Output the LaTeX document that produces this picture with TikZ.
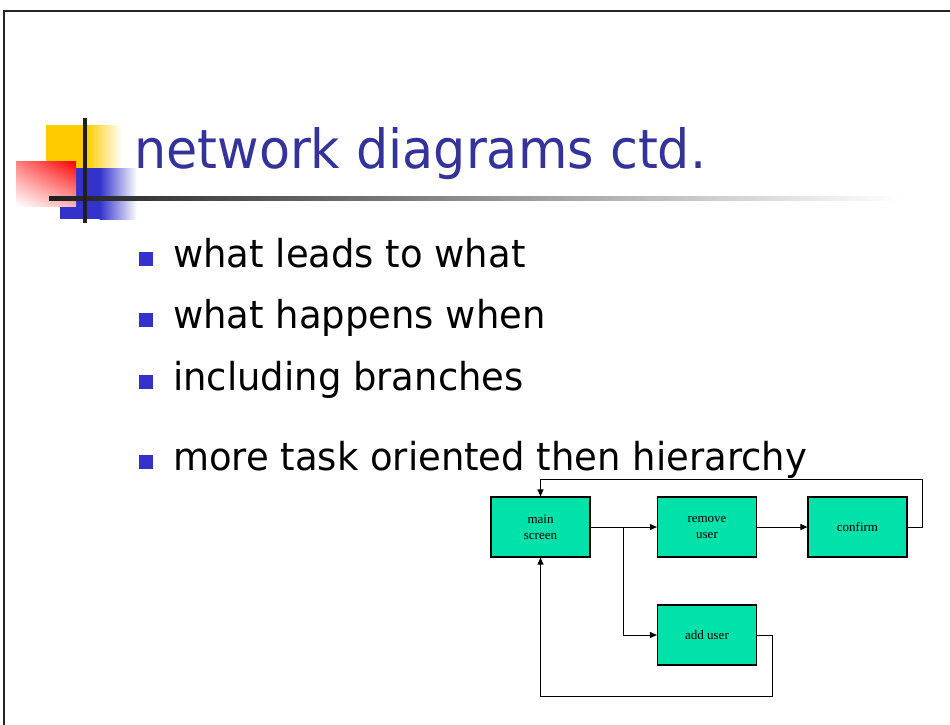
\documentclass[tikz,border=0pt]{standalone}
\usepackage{fontspec}
\setmainfont{DejaVu Sans}
\newfontfamily\titlefont[FakeStretch=0.94]{DejaVu Sans}
\newfontfamily\bodyfont[FakeStretch=0.96]{DejaVu Sans}
\newfontfamily\boxfont{Liberation Serif}
\usetikzlibrary{arrows.meta,shadings}
\definecolor{titleblue}{HTML}{333399}
\definecolor{bulletblue}{HTML}{3333CC}
\definecolor{boxgreen}{HTML}{00E2AA}
\definecolor{logoyellow}{HTML}{FFCC00}
\definecolor{logored}{HTML}{FF0000}
\definecolor{logoblue}{HTML}{3333CC}
\begin{document}
\begin{tikzpicture}[x=1pt,y=1pt,
  box/.style={draw=black, line width=1.2pt, fill=boxgreen, minimum width=99pt, minimum height=60pt, inner sep=0pt, font=\boxfont\fontsize{13}{16}\selectfont, align=center},
  arr/.style={draw=black, line width=1pt, -{Triangle[length=7pt,width=6pt]}},
  bullettext/.style={anchor=base west, inner sep=0pt, font=\bodyfont\fontsize{38.5}{44}\selectfont},
  bulletsq/.style={fill=bulletblue, draw=none, minimum width=14pt, minimum height=14pt, inner sep=0pt},
]
\useasboundingbox (0,0) rectangle (950,-724);
\fill[white] (0,0) rectangle (950,-724);
% slide frame
\draw[line width=2.5pt, black!85] (4,-760) -- (4,-11) -- (960,-11);
% logo
\fill[logoyellow] (46,-125) rectangle (87,-169);
\shade[left color=logoyellow, right color=white] (86.5,-125) rectangle (122,-169);
\fill[logoblue] (60,-168) rectangle (100,-219);
\shade[left color=logoblue, right color=white] (99.5,-168) rectangle (137,-219);
\shade[upper right=logored, lower left=white, upper left=logored!50!white, lower right=logored!30!white] (16,-161) rectangle (76,-206);
\shade[left color=black!88, right color=white] (49,-196) rectangle (900,-200);
\fill[black!88] (83,-118) rectangle (87,-223);
% title
\node[anchor=base west, inner sep=0pt, text=titleblue, font=\titlefont\fontsize{54}{62}\selectfont] (title) at (134,-168) {network diagrams ctd.};
% bullets
\node[bulletsq] (b1) at (146,-258.5) {};
\node[bullettext] (t1) at (173,-267) {what leads to what};
\node[bulletsq] (b2) at (146,-320) {};
\node[bullettext] (t2) at (173,-328.5) {what happens when};
\node[bulletsq] (b3) at (146,-381.5) {};
\node[bullettext] (t3) at (173,-390) {including branches};
\node[bulletsq] (b4) at (146,-461.5) {};
\node[bullettext] (t4) at (173,-470) {more task oriented then hierarchy};
% flow
\node[box] (main) at (540.5,-527) {main\\screen};
\node[box] (remove) at (707,-527) {remove\\user};
\node[box] (confirm) at (857.5,-527) {confirm};
\node[box] (add) at (707,-635) {add user};
\coordinate (br) at (623,-527);
\coordinate (c1) at (922,-479);
\coordinate (a1) at (772,-696);
\draw[arr] (main) -- (remove);
\draw[arr] (br) |- (add.west);
\draw[arr] (remove) -- (confirm);
\draw[arr] (confirm.east) -| (c1) -| (main.north);
\draw[arr] (add.east) -| (a1) -| (main.south);
\end{tikzpicture}
\end{document}
